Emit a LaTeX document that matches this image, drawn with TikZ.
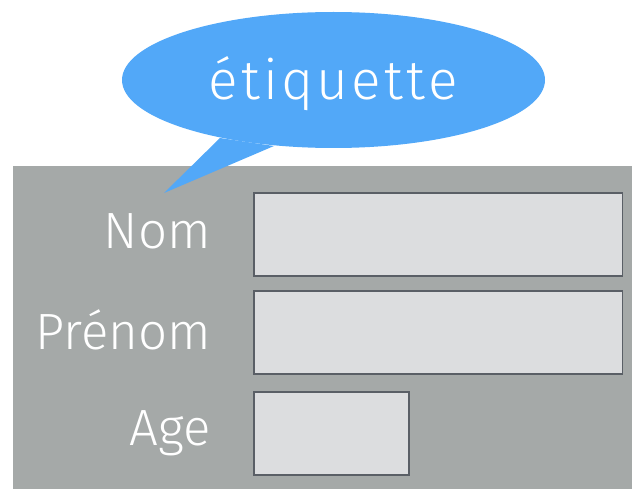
\documentclass[tikz,border=0pt]{standalone}
\usepackage{fontspec}
\setmainfont{Fira Sans Light}
\usetikzlibrary{shapes.geometric}

\definecolor{bubbleblue}{RGB}{82,168,248}
\definecolor{panelgray}{RGB}{165,169,168}
\definecolor{fieldgray}{RGB}{220,221,223}
\definecolor{fieldline}{RGB}{90,95,102}

\tikzset{
  field/.style={draw=fieldline, line width=1.6pt, fill=fieldgray,
    minimum height=83pt, inner sep=0pt},
  fieldlabel/.style={anchor=base east, text=white, inner sep=0pt,
    font=\fontsize{51}{61}\selectfont},
}

\begin{document}
\begin{tikzpicture}[x=1pt,y=-1pt]
        %% define points
        \def\Lx{211};
        \def\Fx{253};
        \def\Fw{368.5};

        \useasboundingbox (0,0) rectangle (632,489);

        %% panel
        \fill[panelgray] (13,166) rectangle (632,489);

        %% fields
        \node[field, anchor=north west, minimum width=\Fw pt] (nomfield) at (\Fx,192) {};
        \node[field, anchor=north west, minimum width=\Fw pt] (prenomfield) at (\Fx,290) {};
        \node[field, anchor=north west, minimum width=155pt] (agefield) at (\Fx,391) {};

        %% labels
        \node[fieldlabel] (nom) at (\Lx,249) {Nom};
        \node[fieldlabel] (prenom) at (\Lx,349) {Prénom};
        \node[fieldlabel] (age) at (\Lx,445) {Age};

        %% bubble
        \coordinate (tailA) at (220,138);
        \coordinate (tailtip) at (164,193);
        \coordinate (tailB) at (274,146);
        \fill[bubbleblue] (tailA) -- (tailtip) -- (tailB) -- cycle;
        \node[ellipse, fill=bubbleblue, minimum width=423pt, minimum height=136pt,
          inner sep=0pt] (bubble) at (333.5,80) {};
        \node[anchor=base, text=white, inner sep=0pt,
          font=\fontsize{55}{66}\selectfont\addfontfeature{LetterSpace=6}] (etiquette) at (333,100) {étiquette};
    \end{tikzpicture}
\end{document}
